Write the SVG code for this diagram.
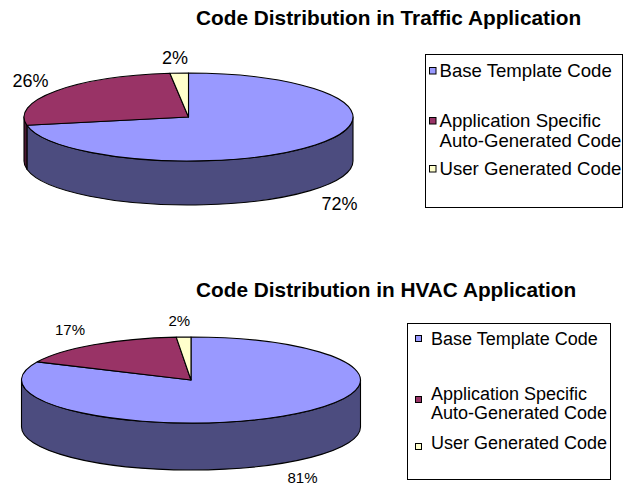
<svg xmlns="http://www.w3.org/2000/svg" width="624" height="486" viewBox="0 0 624 486">
<style>
.bg{fill:#ffffff}
.title{font-family:"Liberation Sans",Arial,sans-serif;font-weight:bold;font-size:20.8px;fill:#000}
.lbl{font-family:"Liberation Sans",Arial,sans-serif;fill:#000}
.leg{font-family:"Liberation Sans",Arial,sans-serif;fill:#000}
.s{stroke:#000;stroke-width:1.1;stroke-linejoin:round}
.blue{fill:#9999FF}
.blueS{fill:#4C4C7F}
.mar{fill:#993366}
.marS{fill:#4C1933}
.yel{fill:#FFFFCC}
.box{fill:#ffffff;stroke:#000;stroke-width:1}
.sw{stroke:#000;stroke-width:1}
</style>
<rect class="bg" x="0" y="0" width="624" height="486"/>

<g id="chart-traffic">
  <text class="title" x="196" y="25">Code Distribution in Traffic Application</text>
  <g id="pie-traffic">
    <path class="s blueS" d="M353,117 L353,161 A164.5,44 0 0 1 26.91,169.24 L26.91,125.24 A164.5,44 0 0 0 353,117 Z"/>
    <path class="s marS" d="M26.91,125.24 L26.91,169.24 A164.5,44 0 0 1 24,161 L24,117 A164.5,44 0 0 0 26.91,125.24 Z"/>
    <path class="s blue" d="M188.5,117 L188.5,73 A164.5,44 0 1 1 26.91,125.24 Z"/>
    <path class="s mar" d="M188.5,117 L26.91,125.24 A164.5,44 0 0 1 169.88,73.28 Z"/>
    <path class="s yel" d="M188.5,117 L169.88,73.28 A164.5,44 0 0 1 188.5,73 Z"/>
  </g>
  <g id="labels-traffic" class="lbl" font-size="18">
    <text x="162" y="64">2%</text>
    <text x="12.5" y="87">26%</text>
    <text x="321.5" y="210">72%</text>
  </g>
  <g id="legend-traffic">
    <rect class="box" x="425.5" y="54.5" width="197" height="153"/>
    <rect class="sw blue" x="429.5" y="67.5" width="6.5" height="6.5"/>
    <rect class="sw mar" x="429.5" y="117.5" width="6.5" height="6.5"/>
    <rect class="sw yel" x="429.5" y="165.5" width="6.5" height="6.5"/>
    <g class="leg" font-size="18.6">
      <text x="439.5" y="77">Base Template Code</text>
      <text x="439.5" y="127">Application Specific</text>
      <text x="439.5" y="147">Auto-Generated Code</text>
      <text x="439.5" y="175">User Generated Code</text>
    </g>
  </g>
</g>

<g id="chart-hvac">
  <text class="title" x="196" y="297">Code Distribution in HVAC Application</text>
  <g id="pie-hvac">
    <path class="s blueS" d="M360.5,380 L360.5,427 A169.5,43 0 0 1 21.5,427 L21.5,380 A169.5,43 0 0 0 360.5,380 Z"/>
    <path class="s blue" d="M191,380 L191,337 A169.5,43 0 1 1 37.38,361.83 Z"/>
    <path class="s mar" d="M191,380 L37.38,361.83 A169.5,43 0 0 1 176.23,337.16 Z"/>
    <path class="s yel" d="M191,380 L176.23,337.16 A169.5,43 0 0 1 191,337 Z"/>
  </g>
  <g id="labels-hvac" class="lbl" font-size="15">
    <text x="168.5" y="326">2%</text>
    <text x="55" y="335">17%</text>
    <text x="287.5" y="483">81%</text>
  </g>
  <g id="legend-hvac">
    <rect class="box" x="407.5" y="323.5" width="203" height="156"/>
    <rect class="sw blue" x="415.5" y="335.5" width="6" height="6"/>
    <rect class="sw mar" x="415.5" y="396.5" width="6" height="6"/>
    <rect class="sw yel" x="415.5" y="443.5" width="6" height="6"/>
    <g class="leg" font-size="18">
      <text x="431" y="345">Base Template Code</text>
      <text x="431" y="400">Application Specific</text>
      <text x="431" y="419">Auto-Generated Code</text>
      <text x="431" y="449">User Generated Code</text>
    </g>
  </g>
</g>
</svg>
